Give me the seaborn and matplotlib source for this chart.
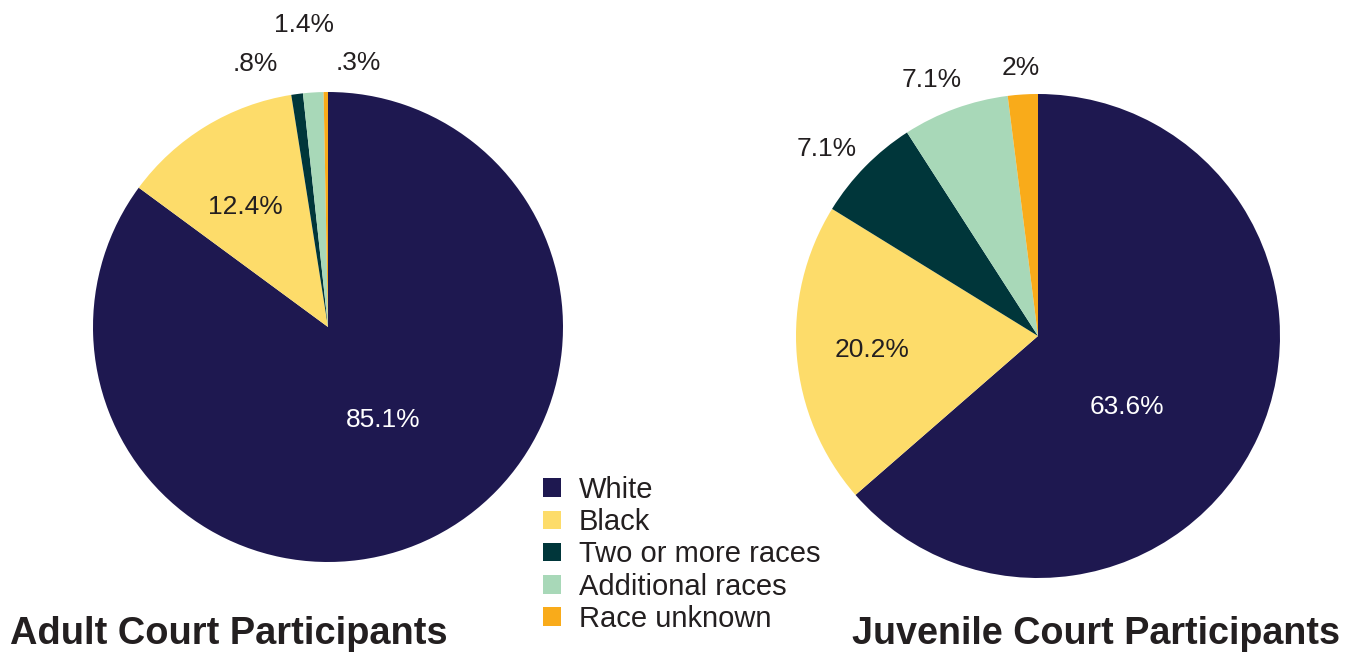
import numpy as np
import matplotlib
matplotlib.use("Agg")
import matplotlib.pyplot as plt
import seaborn as sns

categories = ["White", "Black", "Two or more races", "Additional races", "Race unknown"]
adult_values = [85.1, 12.4, 0.8, 1.4, 0.3]
adult_labels = ["85.1%", "12.4%", ".8%", "1.4%", ".3%"]
juvenile_values = [63.6, 20.2, 7.1, 7.1, 2.0]
juvenile_labels = ["63.6%", "20.2%", "7.1%", "7.1%", "2%"]
colors = ["#1e1850", "#fddc6a", "#00363a", "#a8d8b8", "#f9ab1a"]

sns.set_theme(style="white")
plt.rcParams["font.family"] = ["Liberation Sans", "DejaVu Sans"]
palette = sns.color_palette(colors)
TEXT = "#231f20"

W, H = 1354, 654
fig = plt.figure(figsize=(W / 100, H / 100), dpi=100)
fig.patch.set_facecolor("white")


def pie_axes(cx, cy, r):
    return fig.add_axes([(cx - r) / W, (H - cy - r) / H, 2 * r / W, 2 * r / H])


def draw_pie(ax, values, labels, placements):
    wedges, _ = ax.pie(values, colors=palette, startangle=90, counterclock=False,
                       wedgeprops=dict(linewidth=0))
    ax.set_xlim(-1, 1)
    ax.set_ylim(-1, 1)
    ax.axis("off")
    for w, lab, (dist, dang, col) in zip(wedges, labels, placements):
        mid = np.deg2rad((w.theta1 + w.theta2) / 2 + dang)
        ax.text(dist * np.cos(mid), dist * np.sin(mid), lab, ha="center", va="center",
                fontsize=19, color=col, clip_on=False)
    return wedges


ax1 = pie_axes(328, 327, 235)
wedges = draw_pie(ax1, adult_values, adult_labels,
                  [(0.46, 4, "white"), (0.62, 3, TEXT), (1.16, 8, TEXT),
                   (1.29, 1, TEXT), (1.13, -7, TEXT)])

ax2 = pie_axes(1038, 336, 242)
draw_pie(ax2, juvenile_values, juvenile_labels,
         [(0.47, -14, "white"), (0.69, 0, TEXT), (1.165, 3, TEXT),
          (1.145, 2.5, TEXT), (1.11, 0, TEXT)])

fig.legend(wedges, categories, loc="upper left", bbox_to_anchor=(543 / W, 1 - 476 / H),
           frameon=False, fontsize=21, handlelength=0.6, handleheight=0.6,
           handletextpad=0.62, labelspacing=0.145, borderpad=0, borderaxespad=0,
           labelcolor=TEXT)

fig.text(10 / W, 1 - 634 / H, "Adult Court Participants", ha="left", va="center",
         fontsize=27.4, fontweight="bold", color=TEXT)
fig.text(1340 / W, 1 - 634 / H, "Juvenile Court Participants", ha="right", va="center",
         fontsize=27.2, fontweight="bold", color=TEXT)

fig.savefig("out.png", dpi=100, facecolor="white")
